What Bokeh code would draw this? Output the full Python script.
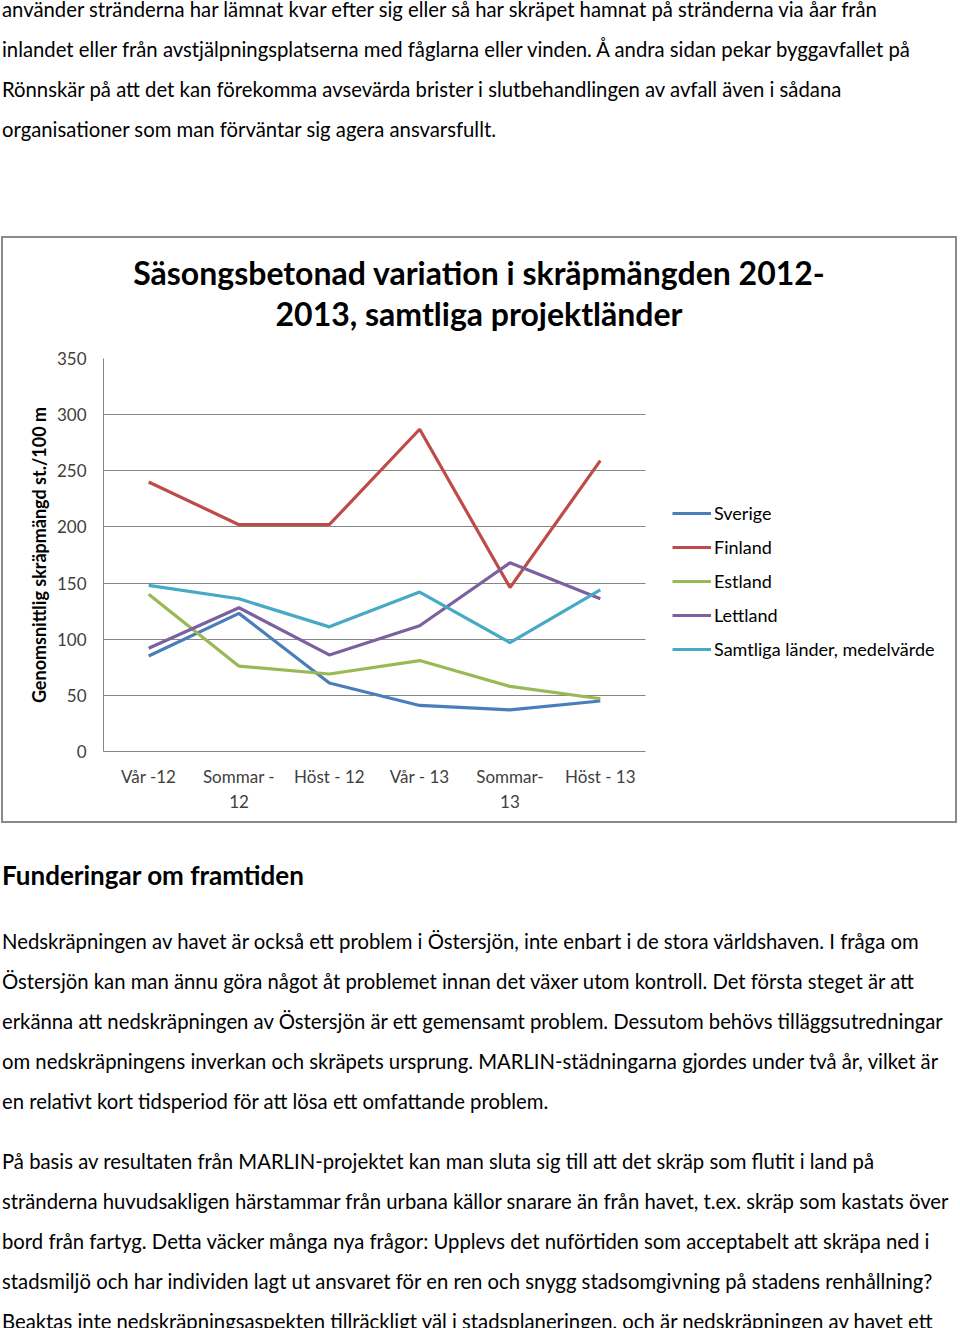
from bokeh.plotting import figure
from bokeh.models import (Range1d, FixedTicker, Legend, LegendItem, Div)
from bokeh.layouts import column
from bokeh.embed import file_html
from bokeh.resources import INLINE

# ---------------- data ----------------
seasons = ["Vår -12", "Sommar -\n12", "Höst - 12", "Vår - 13", "Sommar-\n13", "Höst - 13"]
sverige = [85, 123, 61, 41, 37, 45]
finland = [240, 202, 202, 287, 146, 259]
estland = [140, 76, 69, 81, 58, 47]
lettland = [92, 128, 86, 112, 168, 136]
samtliga = [148, 136, 111, 142, 97, 144]
series_names = ["Sverige", "Finland", "Estland", "Lettland", "Samtliga länder, medelvärde"]
series_values = [sverige, finland, estland, lettland, samtliga]
series_colors = ["#4A7EBB", "#BE4B48", "#98B954", "#7D60A0", "#46AAC5"]
y_ticks = [0, 50, 100, 150, 200, 250, 300, 350]
title_lines = ["Säsongsbetonad variation i skräpmängden 2012-", "2013, samtliga projektländer"]
y_label = "Genomsnittlig skräpmängd st./100 m"

top_lines = [
    "använder stränderna har lämnat kvar efter sig eller så har skräpet hamnat på stränderna via åar från",
    "inlandet eller från avstjälpningsplatserna med fåglarna eller vinden. Å andra sidan pekar byggavfallet på",
    "Rönnskär på att det kan förekomma avsevärda brister i slutbehandlingen av avfall även i sådana",
    "organisationer som man förväntar sig agera ansvarsfullt.",
]
heading = "Funderingar om framtiden"
para1 = [
    "Nedskräpningen av havet är också ett problem i Östersjön, inte enbart i de stora världshaven. I fråga om",
    "Östersjön kan man ännu göra något åt problemet innan det växer utom kontroll. Det första steget är att",
    "erkänna att nedskräpningen av Östersjön är ett gemensamt problem. Dessutom behövs tilläggsutredningar",
    "om nedskräpningens inverkan och skräpets ursprung. MARLIN-städningarna gjordes under två år, vilket är",
    "en relativt kort tidsperiod för att lösa ett omfattande problem.",
]
para2 = [
    "På basis av resultaten från MARLIN-projektet kan man sluta sig till att det skräp som flutit i land på",
    "stränderna huvudsakligen härstammar från urbana källor snarare än från havet, t.ex. skräp som kastats över",
    "bord från fartyg. Detta väcker många nya frågor: Upplevs det nuförtiden som acceptabelt att skräpa ned i",
    "stadsmiljö och har individen lagt ut ansvaret för en ren och snygg stadsomgivning på stadens renhållning?",
    "Beaktas inte nedskräpningsaspekten tillräckligt väl i stadsplaneringen, och är nedskräpningen av havet ett",
]

FONT = "Lato"
BODY_PX = 20.3

# ---------------- text blocks ----------------
def lines_html(lines):
    return "<br>".join(lines)

div1 = Div(
    text=(f'<div style="font-family:{FONT};font-size:{BODY_PX}px;line-height:40px;'
          f'white-space:nowrap;color:#000;margin:0;padding:0">{lines_html(top_lines)}</div>'),
    width=956, height=242, styles={"margin-left": "1px"},
)

div2 = Div(
    text=(f'<div style="font-family:{FONT};color:#000;white-space:nowrap;">'
          f'<div style="font-weight:bold;font-size:26px;line-height:40px;margin-top:27px">{heading}</div>'
          f'<div style="font-size:{BODY_PX}px;line-height:40px;margin-top:26px">{lines_html(para1)}</div>'
          f'<div style="font-size:{BODY_PX}px;line-height:40px;margin-top:20px">{lines_html(para2)}</div>'
          f'</div>'),
    width=956, height=500, styles={"margin-left": "1px", "overflow": "hidden"},
)

# chart title (inside the chart's bordered box)
title_div = Div(
    text=(f'<div style="font-family:{FONT};font-weight:bold;font-size:32px;line-height:41px;'
          f'text-align:center;color:#000;white-space:nowrap;width:952px;padding-top:14px">'
          f'{"<br>".join(title_lines)}</div>'),
    width=952, height=100, margin=(0, 0, 0, 0),
)

# ---------------- chart ----------------
n = len(seasons)
p = figure(width=952, height=483, output_backend="svg", toolbar_location=None,
           x_range=Range1d(0, 850 / 90.33), y_range=Range1d(0, 350),
           min_border_left=100, min_border_right=2, min_border_top=20, min_border_bottom=70)
p.title = None
p.outline_line_color = None
p.background_fill_color = "white"
p.border_fill_color = "white"

xs = [i + 0.5 for i in range(n)]
items = []
for name, vals, col in zip(series_names, series_values, series_colors):
    r = p.line(xs, vals, line_color=col, line_width=3.2)
    items.append(LegendItem(label=name, renderers=[r]))

p.xgrid.visible = False
p.ygrid.ticker = FixedTicker(ticks=y_ticks)
p.ygrid.grid_line_color = "#868686"
p.ygrid.grid_line_width = 1
if "cross_bounds" in p.ygrid.properties():
    p.ygrid.cross_bounds = (0, n)
else:
    p.ygrid.visible = False
    p.segment(x0=[0] * len(y_ticks), x1=[n] * len(y_ticks), y0=y_ticks, y1=y_ticks,
              line_color="#868686", line_width=1, level="underlay")

ya = p.yaxis[0]
ya.ticker = FixedTicker(ticks=y_ticks)
ya.major_tick_line_color = None
ya.minor_tick_line_color = None
ya.major_tick_out = 0
ya.major_tick_in = 0
ya.axis_line_color = "#868686"
ya.major_label_text_font = FONT
ya.major_label_text_font_size = "17px"
ya.major_label_text_color = "#404040"
ya.major_label_standoff = 17
ya.axis_label = y_label
ya.axis_label_text_font = FONT
ya.axis_label_text_font_size = "18px"
ya.axis_label_text_font_style = "bold"
ya.axis_label_text_color = "#000000"
ya.axis_label_standoff = 4

xa = p.xaxis[0]
xa.ticker = FixedTicker(ticks=xs)
xa.bounds = (0, n)
xa.major_label_overrides = {x: s for x, s in zip(xs, seasons)}
xa.major_tick_line_color = None
xa.minor_tick_line_color = None
xa.major_tick_out = 0
xa.major_tick_in = 0
xa.axis_line_color = "#868686"
xa.major_label_text_font = FONT
xa.major_label_text_font_size = "17px"
xa.major_label_text_color = "#404040"
xa.major_label_standoff = 14

legend = Legend(items=items, location=(569, 91), padding=0, margin=0, spacing=12,
                glyph_width=39, glyph_height=20, label_height=20, label_standoff=3,
                label_text_font=FONT, label_text_font_size="18px", label_text_color="#000000",
                border_line_color=None, background_fill_alpha=0)
p.add_layout(legend, "center")

chart_box = column(title_div, p, styles={"border": "2px solid #8a8a8a"})

layout = column(div1, chart_box, div2, styles={"margin-left": "1px", "margin-top": "-16px"})

open("out.html", "w").write(file_html(layout, INLINE))
